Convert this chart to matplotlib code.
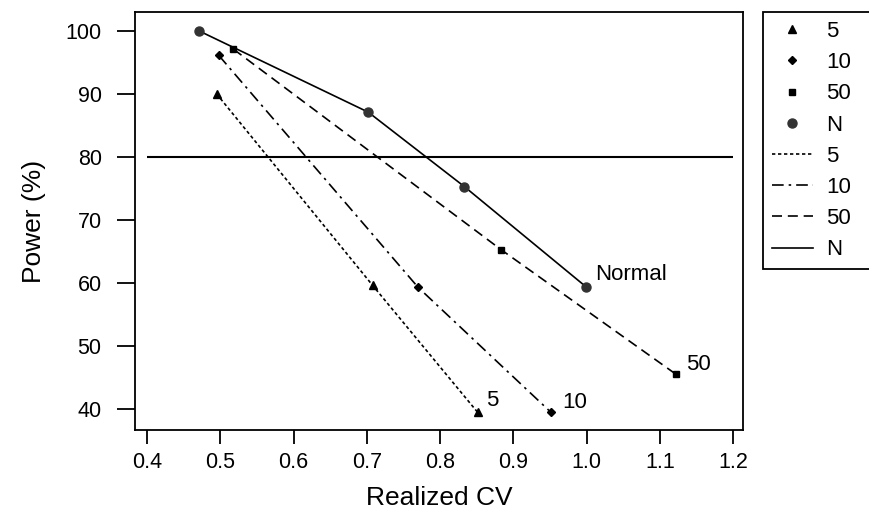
import matplotlib
matplotlib.use("Agg")
import matplotlib.pyplot as plt
from matplotlib.lines import Line2D

plt.rcParams['font.family'] = ['Liberation Sans', 'DejaVu Sans']

# Data
cv_5 = [0.495, 0.708, 0.851]
pw_5 = [90.0, 59.6, 39.5]
cv_10 = [0.498, 0.770, 0.951]
pw_10 = [96.1, 59.3, 39.5]
cv_50 = [0.518, 0.883, 1.122]
pw_50 = [97.1, 65.3, 45.5]
cv_n = [0.471, 0.702, 0.833, 0.999]
pw_n = [100.0, 87.1, 75.3, 59.4]

x_ticks = [0.4, 0.5, 0.6, 0.7, 0.8, 0.9, 1.0, 1.1, 1.2]
y_ticks = [40, 50, 60, 70, 80, 90, 100]
target_power = 80
end_labels = ["5", "10", "50", "Normal"]
legend_labels = ["5", "10", "50", "N"]

W, H = 870, 514
fig = plt.figure(figsize=(W / 100, H / 100), dpi=100)
ax = fig.add_axes([135 / W, 1 - 430 / H, (743 - 135) / W, (430 - 12) / H])

lw = 1.2
styles = [
    dict(ls=(0, (2, 1.6)), marker='^', ms=6),
    dict(ls=(0, (7, 3, 1.5, 3)), marker='D', ms=4.5),
    dict(ls=(0, (6, 3.5)), marker='s', ms=5),
    dict(ls='-', marker='o', ms=6.5),
]
series = [(cv_5, pw_5), (cv_10, pw_10), (cv_50, pw_50), (cv_n, pw_n)]
mcolors = ['black', 'black', 'black', '#333333']

for (xs, ys), st, mc in zip(series, styles, mcolors):
    ax.plot(xs, ys, color='black', lw=lw, ls=st['ls'], zorder=2)
    ax.plot(xs, ys, ls='none', marker=st['marker'], ms=st['ms'],
            color=mc, mec=mc, zorder=3)

ax.hlines(target_power, x_ticks[0], x_ticks[-1], color='black', lw=1.5, zorder=1)

# End labels
offsets = [(0.012, 1.8), (0.016, 1.5), (0.014, 1.6), (0.013, 2.0)]
for (xs, ys), lab, (dx, dy) in zip(series, end_labels, offsets):
    ax.text(xs[-1] + dx, ys[-1] + dy, lab, fontsize=16, ha='left', va='center')

ax.set_xlim(0.3836, 1.2133)
ax.set_ylim(36.67, 103.0)
ax.set_xticks(x_ticks)
ax.set_xticklabels([f"{v:.1f}" for v in x_ticks])
ax.set_yticks(y_ticks)
ax.set_yticklabels([str(v) for v in y_ticks])
ax.tick_params(axis='x', length=10, width=1.3, labelsize=15.5, pad=6)
ax.tick_params(axis='y', length=13, width=1.3, labelsize=15.5, pad=11)
for s in ax.spines.values():
    s.set_linewidth(1.3)

ax.set_xlabel("Realized CV", fontsize=19, labelpad=9)
ax.set_ylabel("Power (%)", fontsize=19, labelpad=14)

handles = []
for st, mc in zip(styles, mcolors):
    handles.append(Line2D([], [], ls='none', marker=st['marker'], ms=st['ms'],
                          color=mc, mec=mc))
for st in styles:
    handles.append(Line2D([], [], ls=st['ls'], color='black', lw=lw))

leg = fig.legend(handles, legend_labels + legend_labels, loc='upper left',
                 bbox_to_anchor=(763 / W, 1 - 267 / H, 112 / W, 255 / H),
                 bbox_transform=fig.transFigure, mode='expand',
                 borderaxespad=0, frameon=True, fancybox=False, edgecolor='black',
                 framealpha=1, fontsize=16, labelspacing=0.46, handlelength=1.85,
                 handletextpad=0.6, borderpad=0.4)
leg.get_frame().set_linewidth(1.3)

fig.savefig("out.png", dpi=100)
